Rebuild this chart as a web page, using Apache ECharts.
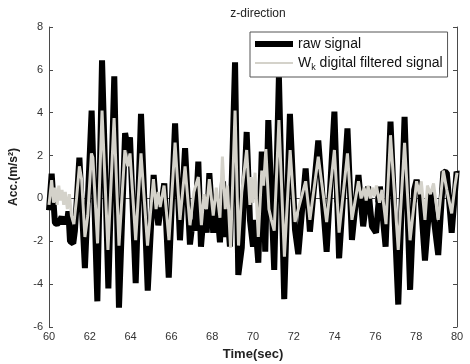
<!DOCTYPE html>
<html>
<head>
<meta charset="utf-8">
<script src="https://cdn.jsdelivr.net/npm/echarts@6/dist/echarts.min.js"></script>
<style>
  html, body { margin: 0; padding: 0; background: #fff; }
  #chart { width: 470px; height: 364px; }
</style>
</head>
<body>
<div id="chart"></div>
<script>
const rawTime = [
  60.00, 60.08, 60.13, 60.21, 60.29, 60.40, 60.50, 60.62, 60.70, 60.78,
  60.88, 60.95, 61.03, 61.19, 61.27, 61.49, 61.55, 61.76, 62.09, 62.37,
  62.60, 62.91, 63.20, 63.43, 63.73, 63.86, 63.97, 64.25, 64.51, 64.84,
  65.13, 65.24, 65.36, 65.65, 65.87, 66.18, 66.42, 66.67, 66.91, 67.05,
  67.15, 67.32, 67.45, 67.60, 67.73, 67.86, 68.05, 68.20, 68.38, 68.53,
  68.63, 68.73, 68.87, 69.12, 69.28, 69.45, 69.69, 69.85, 70.00, 70.10,
  70.26, 70.43, 70.50, 70.60, 70.75, 71.04, 71.27, 71.53, 71.81, 72.06,
  72.22, 72.58, 72.79, 73.20, 73.61, 73.99, 74.22, 74.63, 74.85, 75.17,
  75.40, 75.64, 75.83, 76.03, 76.22, 76.50, 76.74, 77.12, 77.43, 77.70,
  77.90, 78.02, 78.20, 78.43, 78.70, 79.08, 79.33, 79.50, 79.74, 79.98,
  80.00
];
const rawAcc = [
  -0.55, -0.5, 1.15, 1.1, -1.15, -1.2, -1.1, -0.85, -1.2, -0.9,
  -1.1, -0.6, -2.0, -2.1, -1.5, 1.9, 1.85, -3.25, 4.1, -4.8,
  6.45, -4.2, 5.7, -5.1, 3.05, 2.35, 2.85, -3.95, 3.95, -4.3,
  1.1, -0.3, -1.25, 0.7, -3.7, 3.5, -1.95, 2.35, -2.15, -1.0,
  -1.5, 1.72, -2.25, -0.5, -1.6, 1.18, -1.6, 0.0, -2.05, 0.8,
  -1.8, -0.5, -2.25, 6.35, -3.57, -2.3, 3.1, -1.0, -2.25, -1.0,
  -3.0, 2.18, 1.4, -2.49, 3.66, -3.34, 5.68, -4.7, 3.95, -1.47,
  -2.6, 1.4, -1.55, 2.7, -2.49, 4.05, -2.8, 3.27, -1.94, 1.09,
  -1.3, 0.55, -1.3, -1.6, 0.55, -2.25, 3.58, -4.95, 3.81, -4.27,
  0.4, 0.86, 0.2, -2.9, 0.3, -2.64, 1.25, 1.2, -1.6, 1.25,
  1.2
];

const filtTime = [
  60.00, 60.13, 60.22, 60.30, 60.40, 60.48, 60.56, 60.64, 60.72, 60.80,
  60.90, 61.00, 61.10, 61.22, 61.35, 61.49, 61.60, 61.76, 61.90, 62.08,
  62.15, 62.38, 62.60, 62.89, 63.19, 63.43, 63.72, 63.86, 63.97, 64.25,
  64.51, 64.83, 65.12, 65.25, 65.35, 65.45, 65.64, 65.88, 66.18, 66.42,
  66.67, 66.91, 67.10, 67.32, 67.47, 67.60, 67.72, 67.86, 68.05, 68.20,
  68.38, 68.50, 68.64, 68.75, 68.90, 69.12, 69.29, 69.45, 69.69, 69.85,
  69.92, 70.00, 70.10, 70.26, 70.43, 70.52, 70.63, 70.78, 70.90, 71.04,
  71.27, 71.54, 71.82, 72.06, 72.22, 72.58, 72.79, 73.20, 73.40, 73.61,
  73.99, 74.22, 74.63, 74.85, 75.17, 75.30, 75.45, 75.55, 75.64, 75.75,
  75.85, 75.95, 76.05, 76.20, 76.32, 76.52, 76.74, 77.12, 77.43, 77.70,
  78.02, 78.15, 78.25, 78.43, 78.55, 78.70, 78.85, 79.08, 79.33, 79.50,
  79.74, 79.90, 80.00
];
const filtAcc = [
  -0.3, 0.85, -0.2, 0.5, -0.3, 0.6, -0.1, 0.4, -0.3, 0.3,
  -0.5, 0.2, -0.8, -1.2, 0.0, 1.5, 0.9, -1.8, -0.8, 2.1,
  1.9, -2.1, 4.1, -2.4, 3.75, -2.2, 2.25, 1.5, 2.1, -1.95,
  2.1, -2.2, 0.9, -0.5, 0.3, -0.4, 0.6, -1.95, 2.6, -1.0,
  1.5, -1.25, 0.3, 1.0, -1.25, 0.2, -0.5, 0.9, -0.8, 0.5,
  -0.9, 1.95, -0.5, 0.6, -2.3, 4.1, -2.2, 0.3, 2.26, -0.3,
  1.0, -0.2, 1.2, -1.8, 1.3, 0.6, 2.3, -0.5, -1.0, -1.5,
  3.66, -2.72, 2.26, -1.1, -0.5, 0.8, -1.0, 1.95, 0.5, -1.1,
  2.26, -1.6, 2.1, -1.0, 0.8, 0.0, 0.5, -0.1, 0.6, 0.0,
  0.5, 0.1, 0.6, -0.2, 0.4, -1.2, 2.95, -2.4, 2.6, -1.95,
  0.8, 0.2, 0.8, -1.0, 0.6, 0.2, 0.7, -1.0, 1.3, 0.4,
  -0.7, 0.6, 1.2
];

const xTicks = { min: 60, max: 80, interval: 2 };
const yTicks = { min: -6, max: 8, interval: 2 };

const rawName = "raw signal";
const filtName = "Wk digital filtered signal";

const chart = echarts.init(document.getElementById("chart"));

const axisColor = "#4a4a4a";
const labelColor = "#333";
const font = "Liberation Sans, Arial, sans-serif";

const option = {
  animation: false,
  backgroundColor: "#fff",
  title: {
    text: "z-direction",
    left: 253,
    top: 3,
    textAlign: "center",
    textStyle: { fontSize: 12, fontWeight: "normal", color: "#222", fontFamily: font },
  },
  legend: {
    orient: "vertical",
    left: 250,
    top: 32,
    padding: [5, 5, 5, 5],
    itemGap: 5,
    itemWidth: 38,
    itemHeight: 14,
    borderColor: "#555",
    borderWidth: 1,
    backgroundColor: "#fff",
    data: [
      { name: rawName, icon: "path://M0,0H38V6H0Z" },
      { name: filtName, icon: "path://M0,0H38V2H0Z" },
    ],
    formatter: (name) =>
      name === filtName ? "{t|W}{s|k}{t| digital filtered signal}" : "{t|" + name + "}",
    textStyle: {
      color: "#111",
      fontFamily: font,
      fontSize: 14,
      rich: {
        t: { fontSize: 14, fontFamily: font, color: "#111" },
        s: { fontSize: 9, fontFamily: font, color: "#111", padding: [9, 0, 0, 0] },
      },
    },
  },
  grid: { left: 49, right: 13, top: 27, bottom: 37, outerBoundsMode: "none" },
  xAxis: [
    {
      type: "value",
      ...xTicks,
      name: "Time(sec)",
      nameLocation: "middle",
      nameGap: 21,
      nameTextStyle: { fontSize: 13, fontWeight: "bold", color: "#222", fontFamily: font },
      axisLine: { lineStyle: { color: axisColor } },
      axisTick: { inside: true, length: 4, lineStyle: { color: axisColor } },
      axisLabel: { color: labelColor, fontSize: 11, margin: 4, fontFamily: font },
      splitLine: { show: false },
    },
    {
      type: "value",
      ...xTicks,
      position: "top",
      axisLine: { lineStyle: { color: axisColor } },
      axisTick: { inside: true, length: 4, lineStyle: { color: axisColor } },
      axisLabel: { show: false },
      splitLine: { show: false },
    },
  ],
  yAxis: [
    {
      type: "value",
      ...yTicks,
      name: "Acc.(m/s²)",
      nameLocation: "middle",
      nameGap: 29,
      nameTextStyle: { fontSize: 12, fontWeight: "bold", color: "#222", fontFamily: font },
      axisLine: { show: true, lineStyle: { color: axisColor } },
      axisTick: { show: true, inside: true, length: 4, lineStyle: { color: axisColor } },
      axisLabel: { color: labelColor, fontSize: 11, margin: 6, fontFamily: font },
      splitLine: { show: false },
    },
    {
      type: "value",
      ...yTicks,
      position: "right",
      axisLine: { show: true, lineStyle: { color: axisColor } },
      axisTick: { show: true, inside: true, length: 4, lineStyle: { color: axisColor } },
      axisLabel: { show: false },
      splitLine: { show: false },
    },
  ],
  series: [
    {
      name: rawName,
      type: "line",
      data: rawTime.map((t, i) => [t, rawAcc[i]]),
      symbol: "none",
      lineStyle: { color: "#000", width: 6 },
      itemStyle: { color: "#000" },
    },
    {
      name: filtName,
      type: "line",
      data: filtTime.map((t, i) => [t, filtAcc[i]]),
      symbol: "none",
      lineStyle: { color: "#d4d2ca", width: 3 },
      itemStyle: { color: "#d4d2ca" },
    },
  ],
};

chart.setOption(option);
</script>
</body>
</html>
